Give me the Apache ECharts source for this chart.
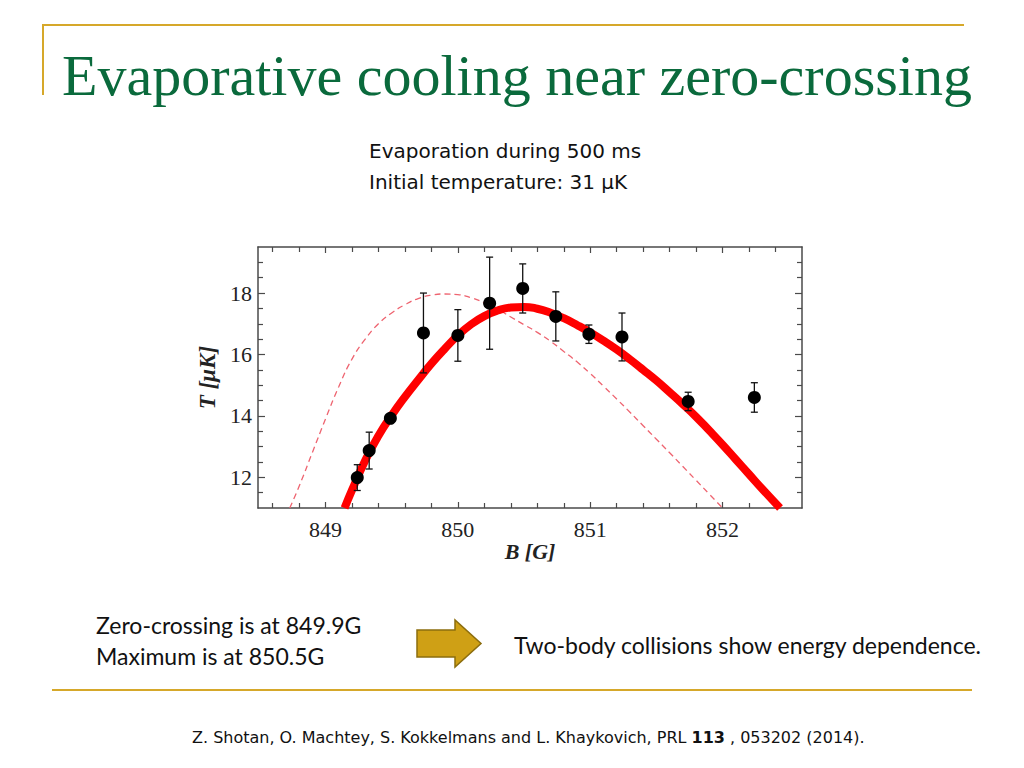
<!DOCTYPE html>
<html>
<head>
<meta charset="utf-8">
<style>html,body{margin:0;padding:0;background:#fff;}#c{width:1024px;height:768px;}</style>
<script src="https://cdn.jsdelivr.net/npm/echarts@6/dist/echarts.min.js"></script>
</head>
<body>
<div id="c"></div>
<script>
// Measured data points
const Bvals = [849.24, 849.33, 849.49, 849.74, 850.0, 850.24, 850.49, 850.74, 850.99, 851.24, 851.74, 852.24];
const Tvals = [11.99, 12.87, 13.92, 16.70, 16.62, 17.67, 18.15, 17.24, 16.66, 16.57, 14.47, 14.60];
const Terr  = [0.42, 0.60, 0.10, 1.30, 0.84, 1.50, 0.80, 0.80, 0.30, 0.78, 0.30, 0.48];

// Solid fit curve
const fitB = [849.144, 849.2, 849.3, 849.4, 849.5, 849.6, 849.7, 849.8, 849.9, 850.0, 850.1, 850.2, 850.3, 850.4, 850.5, 850.6, 850.7, 850.8, 850.9, 851.0, 851.1, 851.2, 851.3, 851.4, 851.5, 851.6, 851.7, 851.8, 851.9, 852.0, 852.1, 852.2, 852.3, 852.434];
const fitT = [11.0, 11.58, 12.55, 13.35, 14.02, 14.62, 15.17, 15.7, 16.18, 16.62, 16.98, 17.25, 17.43, 17.53, 17.55, 17.49, 17.36, 17.18, 16.96, 16.72, 16.45, 16.16, 15.84, 15.5, 15.15, 14.77, 14.38, 13.97, 13.52, 13.06, 12.58, 12.1, 11.62, 11.0];

// Dashed curve
const dashB = [848.73, 848.8, 848.9, 849.0, 849.1, 849.2, 849.3, 849.4, 849.5, 849.6, 849.7, 849.8, 849.9, 850.0, 850.1, 850.2, 850.3, 850.4, 850.5, 850.6, 850.7, 850.8, 850.9, 851.0, 851.1, 851.2, 851.3, 851.4, 851.5, 851.6, 851.7, 851.8, 851.9, 852.0];
const dashT = [11.0, 11.7, 12.8, 13.9, 14.95, 15.85, 16.5, 17.0, 17.35, 17.62, 17.82, 17.93, 17.97, 17.95, 17.85, 17.68, 17.47, 17.22, 16.97, 16.72, 16.43, 16.1, 15.76, 15.38, 14.97, 14.55, 14.12, 13.68, 13.24, 12.8, 12.35, 11.9, 11.45, 11.0];

// Axis ticks
const xMajor = [849, 850, 851, 852];
const xMinor = [848.6, 848.8, 849.2, 849.4, 849.6, 849.8, 850.2, 850.4, 850.6, 850.8, 851.2, 851.4, 851.6, 851.8, 852.2, 852.4];
const yMajor = [12, 14, 16, 18];
const yMinor = [11.5, 12.5, 13, 13.5, 14.5, 15, 15.5, 16.5, 17, 17.5, 18.5, 19];

const X_MIN = 848.49, X_MAX = 852.6, Y_MIN = 11, Y_MAX = 19.5;

const chart = echarts.init(document.getElementById('c'), null, {renderer: 'svg'});
const frame = '#4a4a4a';
const serif = 'Liberation Serif, Times New Roman, serif';
const sans = 'Lato, Open Sans, sans-serif';
const gothic = 'DejaVu Sans, Verdana, sans-serif';
const gold = '#d6a82a';

function xAx(pos, ticks, len, showLine, labels, name) {
  return {
    type: 'value', position: pos, min: X_MIN, max: X_MAX,
    axisLine: {show: showLine, onZero: false, lineStyle: {color: frame, width: 1.5}},
    axisTick: {show: true, inside: true, length: len, customValues: ticks, lineStyle: {color: frame, width: 1.2}},
    axisLabel: labels ? {show: true, customValues: ticks, margin: 10, color: '#222', fontFamily: serif, fontSize: 22} : {show: false},
    splitLine: {show: false},
    name: name || '', nameLocation: 'middle', nameGap: 31,
    nameTextStyle: {fontFamily: serif, fontSize: 22, fontWeight: 'bold', fontStyle: 'italic', color: '#222'}
  };
}
function yAx(pos, ticks, len, showLine, labels, name) {
  return {
    type: 'value', position: pos, min: Y_MIN, max: Y_MAX,
    axisLine: {show: showLine, onZero: false, lineStyle: {color: frame, width: 1.5}},
    axisTick: {show: true, inside: true, length: len, customValues: ticks, lineStyle: {color: frame, width: 1.2}},
    axisLabel: labels ? {show: true, customValues: ticks, margin: 6, color: '#222', fontFamily: serif, fontSize: 22} : {show: false},
    splitLine: {show: false},
    name: name || '', nameLocation: 'middle', nameGap: 36,
    nameTextStyle: {fontFamily: serif, fontSize: 23, fontWeight: 'bold', fontStyle: 'italic', color: '#222'}
  };
}

const option = {
  backgroundColor: '#fff',
  animation: false,
  grid: {left: 258, right: 222, top: 247, bottom: 260, containLabel: false},
  xAxis: [
    xAx('bottom', xMajor, 6, true, true, 'B [G]'),
    xAx('bottom', xMinor, 5, false, false),
    xAx('top', xMajor, 6, true, false),
    xAx('top', xMinor, 5, false, false)
  ],
  yAxis: [
    yAx('left', yMajor, 7, true, true, 'T [μK]'),
    yAx('left', yMinor, 5, false, false),
    yAx('right', yMajor, 7, true, false),
    yAx('right', yMinor, 5, false, false)
  ],
  series: [
    {
      type: 'line', name: 'dashed', smooth: true, showSymbol: false, clip: true,
      data: dashB.map((b, i) => [b, dashT[i]]),
      lineStyle: {color: '#ee6470', width: 1.3, type: [6, 4]}, z: 2
    },
    {
      type: 'line', name: 'fit', smooth: true, showSymbol: false, clip: true,
      data: fitB.map((b, i) => [b, fitT[i]]),
      lineStyle: {color: '#ff0000', width: 8}, z: 3
    },
    {
      type: 'custom', name: 'err', z: 4,
      data: Bvals.map((b, i) => [b, Tvals[i], Terr[i]]),
      encode: {x: 0, y: 1},
      renderItem: function (params, api) {
        const x = api.value(0), y = api.value(1), e = api.value(2);
        const t = api.coord([x, y + e]), b = api.coord([x, y - e]);
        const cw = 3.5;
        const st = {stroke: '#111', lineWidth: 1.3};
        return {type: 'group', children: [
          {type: 'line', shape: {x1: t[0], y1: t[1], x2: b[0], y2: b[1]}, style: st},
          {type: 'line', shape: {x1: t[0] - cw, y1: t[1], x2: t[0] + cw, y2: t[1]}, style: st},
          {type: 'line', shape: {x1: b[0] - cw, y1: b[1], x2: b[0] + cw, y2: b[1]}, style: st}
        ]};
      }
    },
    {
      type: 'scatter', name: 'data', z: 5, symbol: 'circle', symbolSize: 13,
      data: Bvals.map((b, i) => [b, Tvals[i]]),
      itemStyle: {color: '#000', opacity: 1}
    }
  ],
  graphic: [
    {type: 'line', shape: {x1: 42, y1: 25, x2: 964, y2: 25}, style: {stroke: gold, lineWidth: 2}},
    {type: 'line', shape: {x1: 43, y1: 25, x2: 43, y2: 95}, style: {stroke: gold, lineWidth: 2}},
    {type: 'line', shape: {x1: 52, y1: 690, x2: 972, y2: 690}, style: {stroke: gold, lineWidth: 2}},
    {type: 'text', x: 62, y: 75, style: {text: 'Evaporative cooling near zero-crossing', font: '58px ' + serif, fill: '#0a6a3c', textVerticalAlign: 'middle'}},
    {type: 'text', x: 369, y: 151, style: {text: 'Evaporation during 500 ms', font: '20px ' + gothic, fill: '#111', textVerticalAlign: 'middle'}},
    {type: 'text', x: 369, y: 182, style: {text: 'Initial temperature: 31 μK', font: '20px ' + gothic, fill: '#111', textVerticalAlign: 'middle'}},
    {type: 'text', x: 96, y: 625, style: {text: 'Zero-crossing is at 849.9G', font: '23px ' + sans, fill: '#111', textVerticalAlign: 'middle'}},
    {type: 'text', x: 96, y: 656, style: {text: 'Maximum is at 850.5G', font: '23px ' + sans, fill: '#111', textVerticalAlign: 'middle'}},
    {type: 'text', x: 514, y: 645, style: {text: 'Two-body collisions show energy dependence.', font: '23px ' + sans, fill: '#111', textVerticalAlign: 'middle'}},
    {type: 'text', x: 192, y: 737, style: {text: 'Z. Shotan, O. Machtey, S. Kokkelmans and L. Khaykovich, PRL {b|113} , 053202 (2014).', font: '16px ' + gothic, fill: '#111', textVerticalAlign: 'middle', rich: {b: {fontWeight: 'bold', fontSize: 16, fontFamily: gothic}}}},
    {type: 'polygon', shape: {points: [[417, 630], [455, 630], [455, 620], [481, 643.5], [455, 667], [455, 657], [417, 657]]}, style: {fill: '#cfa015', stroke: '#8c6d0e', lineWidth: 1.5}}
  ]
};
chart.setOption(option);
</script>
</body>
</html>
